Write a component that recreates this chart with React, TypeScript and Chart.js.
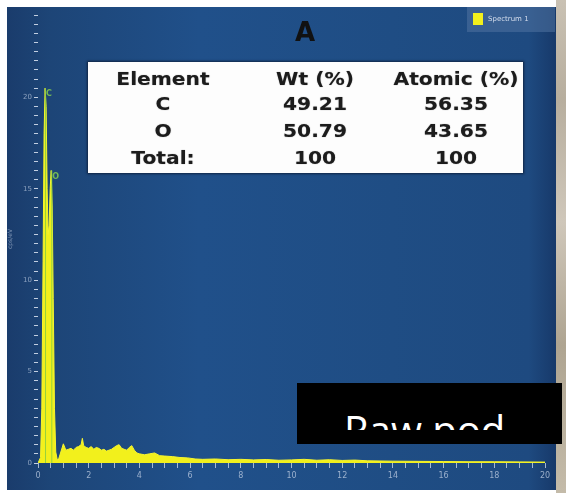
import React, { useEffect, useRef } from "react";
import { Chart, registerables } from "chart.js";

Chart.register(...registerables);

// Energy axis (keV) and spectrum intensity (cps/eV)
const energy = [
  0, 0.1, 0.15, 0.2, 0.24, 0.28, 0.32, 0.36, 0.4, 0.44, 0.48, 0.52, 0.56, 0.6, 0.65, 0.7, 0.75, 0.8, 0.9,
  1.0, 1.1, 1.2, 1.3, 1.4, 1.5, 1.6, 1.7, 1.75, 1.8, 1.9, 2.0, 2.1, 2.2, 2.3, 2.4, 2.5, 2.6, 2.7, 2.8, 2.9,
  3.0, 3.1, 3.2, 3.3, 3.4, 3.5, 3.6, 3.7, 3.8, 3.9, 4.0, 4.2, 4.4, 4.6, 4.8, 5.0, 5.3, 5.6, 5.9, 6.2, 6.5,
  7.0, 7.5, 8.0, 8.5, 9.0, 9.5, 10.0, 10.5, 11.0, 11.5, 12.0, 12.5, 13.0, 14.0, 15.0, 16.0, 17.0, 18.0, 19.0, 20.0,
];
const counts = [
  0, 0.3, 3, 11, 18, 20.5, 19.5, 15, 12.5, 13, 15, 16, 14, 9, 3, 0.6, 0.25, 0.15, 0.6,
  1.05, 0.7, 0.75, 0.8, 0.7, 0.85, 0.9, 1.0, 1.35, 0.95, 0.85, 0.8, 0.9, 0.75, 0.85, 0.8, 0.7, 0.75, 0.65, 0.7, 0.75,
  0.85, 0.95, 1.0, 0.8, 0.75, 0.7, 0.85, 0.95, 0.7, 0.55, 0.5, 0.45, 0.5, 0.55, 0.4, 0.38, 0.35, 0.3, 0.28, 0.22, 0.2,
  0.22, 0.18, 0.2, 0.17, 0.19, 0.15, 0.17, 0.2, 0.15, 0.18, 0.14, 0.16, 0.12, 0.1, 0.09, 0.08, 0.07, 0.07, 0.06, 0.05,
];

// Element markers
const markerNames = ["C", "O"];
const markerEnergy = [0.277, 0.525];
const markerValue = [20.5, 16];

// Quantification table
const tableHeader = ["Element", "Wt (%)", "Atomic (%)"];
const tableElements = ["C", "O", "Total:"];
const tableWt = ["49.21", "50.79", "100"];
const tableAtomic = ["56.35", "43.65", "100"];

const xLabelEvery = 2;
const yLabelEvery = 5;

const markerPlugin = {
  id: "elementMarkers",
  afterDatasetsDraw(chart: any) {
    const { ctx, scales } = chart;
    const xs = scales.x;
    const ys = scales.y;
    ctx.save();
    markerNames.forEach((name, i) => {
      const x = xs.getPixelForValue(markerEnergy[i]);
      const yTop = ys.getPixelForValue(markerValue[i]);
      const yBot = ys.getPixelForValue(0);
      ctx.strokeStyle = "rgba(120,200,70,0.75)";
      ctx.lineWidth = 1;
      ctx.beginPath();
      ctx.moveTo(x + 0.5, yBot);
      ctx.lineTo(x + 0.5, yTop);
      ctx.stroke();
      ctx.fillStyle = "rgba(130,205,80,0.85)";
      ctx.font = "bold 8px 'DejaVu Sans'";
      ctx.textAlign = "left";
      ctx.textBaseline = "top";
      ctx.fillText(name, x + 1, yTop + 2);
    });
    ctx.restore();
  },
};

export default function App() {
  const canvasRef = useRef<HTMLCanvasElement | null>(null);

  useEffect(() => {
    document.body.style.margin = "0";
    const canvas = canvasRef.current;
    if (!canvas) return;
    const chart = new Chart(canvas, {
      type: "line",
      data: {
        datasets: [
          {
            label: "Spectrum 1",
            data: energy.map((e, i) => ({ x: e, y: counts[i] })),
            fill: "origin",
            backgroundColor: "#f2f01c",
            borderColor: "#f6f52e",
            borderWidth: 1,
            pointRadius: 0,
            tension: 0,
          },
        ],
      },
      options: {
        animation: false,
        responsive: false,
        maintainAspectRatio: false,
        layout: { padding: { top: 8, right: 11, left: 0, bottom: 0 } },
        plugins: {
          legend: { display: false },
          tooltip: { enabled: false },
          title: { display: false },
        },
        scales: {
          x: {
            type: "linear",
            min: 0,
            max: 20,
            ticks: {
              stepSize: 0.5,
              autoSkip: false,
              maxRotation: 0,
              color: "rgba(185,200,222,0.8)",
              font: { size: 8, family: "'DejaVu Sans'" },
              padding: 3,
              callback: (v: any) => (Number(v) % xLabelEvery === 0 ? String(v) : ""),
            },
            grid: {
              display: true,
              drawOnChartArea: false,
              drawTicks: true,
              tickLength: 5,
              color: "rgba(210,222,240,0.75)",
            },
            border: { display: false },
            afterFit: (a: any) => {
              a.height = 27;
            },
          },
          y: {
            type: "linear",
            min: 0,
            max: 24.5,
            ticks: {
              stepSize: 0.5,
              autoSkip: false,
              color: "rgba(185,200,222,0.7)",
              font: { size: 7, family: "'DejaVu Sans'" },
              padding: 2,
              callback: (v: any) => (Number(v) % yLabelEvery === 0 ? String(v) : ""),
            },
            grid: {
              display: true,
              drawOnChartArea: false,
              drawTicks: true,
              tickLength: 4,
              color: "rgba(225,232,245,0.85)",
            },
            border: { display: false },
            title: {
              display: true,
              text: "cps/eV",
              color: "rgba(185,200,222,0.6)",
              font: { size: 6, family: "'DejaVu Sans'" },
              padding: 0,
            },
            afterFit: (a: any) => {
              a.width = 31;
            },
          },
        },
      },
      plugins: [markerPlugin],
    });
    return () => chart.destroy();
  }, []);

  const cellStyle = (cx: number, cy: number): React.CSSProperties => ({
    position: "absolute",
    left: cx - 100,
    top: cy - 11,
    width: 200,
    height: 22,
    lineHeight: "22px",
    textAlign: "center",
    font: "bold 17px 'DejaVu Sans'",
    color: "#1c1c1c",
    transform: "scaleX(1.19)",
    textShadow: "0 0 1px rgba(0,0,0,0.45)",
    whiteSpace: "nowrap",
  });

  const colX = [75, 227, 368];
  const rowY = [18, 43, 70, 97];

  return (
    <div
      style={{
        position: "absolute",
        left: 0,
        top: 0,
        width: 566,
        height: 493,
        background: "#ffffff",
        overflow: "hidden",
        fontFamily: "'DejaVu Sans', sans-serif",
      }}
    >
      {/* blue spectrum panel */}
      <div
        style={{
          position: "absolute",
          left: 7,
          top: 7,
          width: 549,
          height: 483,
          background:
            "linear-gradient(90deg, #1a3c6c 0%, #1d4577 8%, #20508a 35%, #1f4d84 70%, #1e4a80 95%, #17396a 100%)",
        }}
      />
      {/* right textured strip */}
      <div
        style={{
          position: "absolute",
          left: 556,
          top: 0,
          width: 10,
          height: 493,
          background:
            "linear-gradient(180deg, #c9c1b3 0%, #b7ae9e 20%, #cfc7ba 45%, #aea491 70%, #c4bba9 100%)",
        }}
      />
      <canvas
        ref={canvasRef}
        width={549}
        height={483}
        style={{ position: "absolute", left: 7, top: 7, width: 549, height: 483 }}
      />
      {/* title */}
      <div
        style={{
          position: "absolute",
          left: 255,
          top: 17,
          width: 100,
          textAlign: "center",
          font: "bold 26px 'DejaVu Sans'",
          color: "#111111",
          lineHeight: "30px",
        }}
      >
        A
      </div>
      {/* legend */}
      <div
        style={{
          position: "absolute",
          left: 467,
          top: 7,
          width: 88,
          height: 25,
          background: "rgba(80,115,160,0.55)",
        }}
      >
        <div
          style={{
            position: "absolute",
            left: 6,
            top: 6,
            width: 10,
            height: 12,
            background: "#f2f01c",
          }}
        />
        <div
          style={{
            position: "absolute",
            left: 21,
            top: 6,
            font: "7px 'DejaVu Sans'",
            color: "rgba(235,240,250,0.85)",
            lineHeight: "12px",
            whiteSpace: "nowrap",
          }}
        >
          Spectrum 1
        </div>
      </div>
      {/* quantification table */}
      <div
        style={{
          position: "absolute",
          left: 88,
          top: 62,
          width: 435,
          height: 111,
          background: "#fdfdfd",
          boxShadow: "0 0 2px 1px rgba(10,20,40,0.7)",
        }}
      >
        {tableHeader.map((h, j) => (
          <div key={"h" + j} style={cellStyle(colX[j], rowY[0])}>
            {h}
          </div>
        ))}
        {tableElements.map((el, i) => (
          <React.Fragment key={"r" + i}>
            <div style={cellStyle(colX[0], rowY[i + 1])}>{el}</div>
            <div style={cellStyle(colX[1], rowY[i + 1])}>{tableWt[i]}</div>
            <div style={cellStyle(colX[2], rowY[i + 1])}>{tableAtomic[i]}</div>
          </React.Fragment>
        ))}
      </div>
      {/* black caption box with clipped text */}
      <div
        style={{
          position: "absolute",
          left: 297,
          top: 383,
          width: 265,
          height: 61,
          background: "#000000",
        }}
      >
        <div
          style={{
            position: "absolute",
            left: 0,
            top: 0,
            width: 265,
            height: 47,
            overflow: "hidden",
          }}
        >
          <div
            style={{
              position: "absolute",
              left: 47,
              top: 27,
              font: "40px 'Open Sans'",
              lineHeight: "40px",
              color: "#ffffff",
              whiteSpace: "nowrap",
            }}
          >
            Raw pod
          </div>
        </div>
      </div>
    </div>
  );
}
